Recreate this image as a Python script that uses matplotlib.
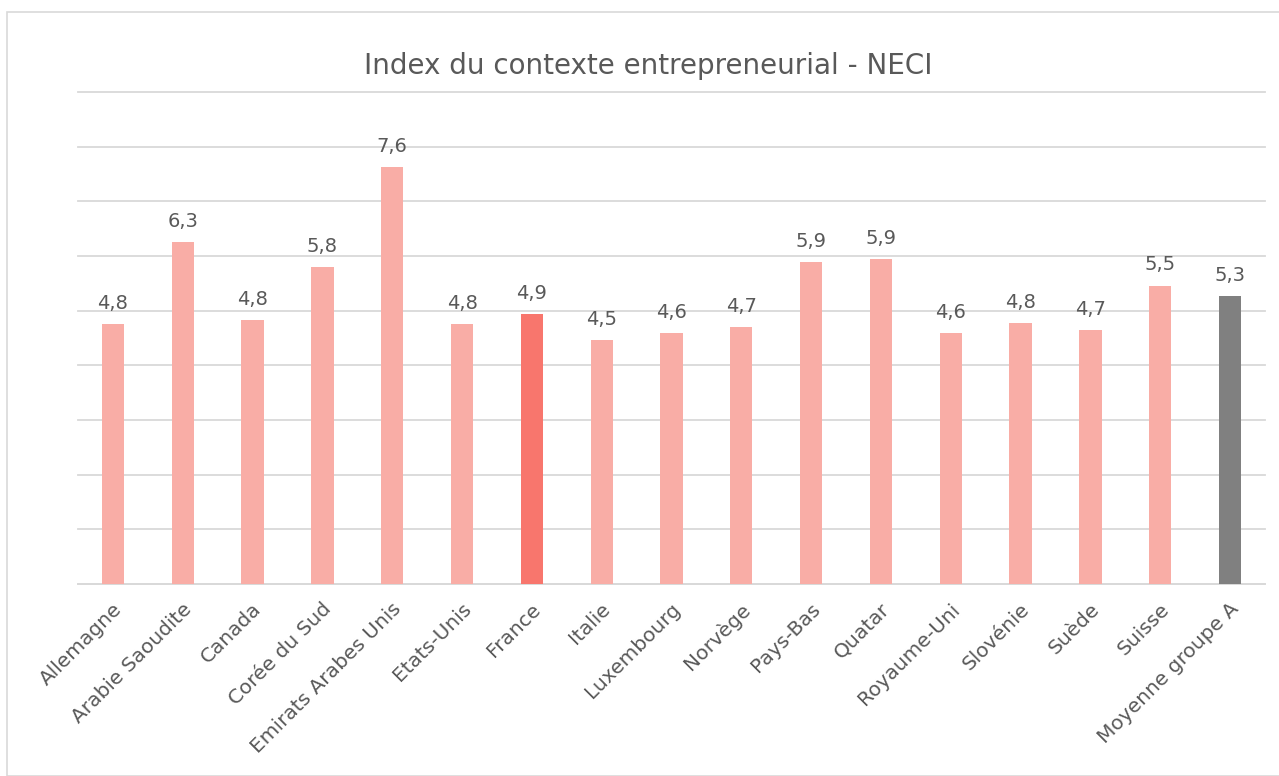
import matplotlib
matplotlib.use("Agg")
import matplotlib.pyplot as plt
from matplotlib.patches import Rectangle
from matplotlib.transforms import ScaledTranslation

categories = ["Allemagne", "Arabie Saoudite", "Canada", "Corée du Sud", "Emirats Arabes Unis",
              "Etats-Unis", "France", "Italie", "Luxembourg", "Norvège", "Pays-Bas", "Quatar",
              "Royaume-Uni", "Slovénie", "Suède", "Suisse", "Moyenne groupe A"]
values = [4.76, 6.26, 4.83, 5.80, 7.62, 4.76, 4.94, 4.46, 4.59, 4.70, 5.89, 5.94,
          4.59, 4.77, 4.65, 5.46, 5.27]
labels = ["4,8", "6,3", "4,8", "5,8", "7,6", "4,8", "4,9", "4,5", "4,6", "4,7", "5,9", "5,9",
          "4,6", "4,8", "4,7", "5,5", "5,3"]

plt.rcParams['font.family'] = ['DejaVu Sans']
text_color = "#595959"

fig = plt.figure(figsize=(12.79, 7.76), dpi=100)
fig.patches.append(Rectangle((7/1279, 0), 1.0, 1 - 12/776, transform=fig.transFigure,
                             fill=False, edgecolor="#D9D9D9", linewidth=1.2))
ax = fig.add_axes([78/1279, 192/776, 1187/1279, 492/776])

colors = []
for c in categories:
    if c == "France":
        colors.append("#F8766D")
    elif c == "Moyenne groupe A":
        colors.append("#808080")
    else:
        colors.append("#F9ADA6")

x = list(range(len(categories)))
ax.bar(x, values, width=0.32, color=colors, zorder=3)
for xi, v, lab in zip(x, values, labels):
    ax.annotate(lab, (xi, v), xytext=(0, 11), textcoords="offset points",
                ha="center", va="baseline", fontsize=14, color=text_color)

ax.set_ylim(0, 9)
ax.set_xlim(-0.5, len(categories) - 0.5)
ax.set_yticks(range(0, 10))
ax.yaxis.grid(True, color="#D9D9D9", linewidth=1.3, zorder=0)
for gl in ax.get_ygridlines():
    gl.set_clip_on(False)
ax.tick_params(axis="y", length=0, labelleft=False)
ax.tick_params(axis="x", length=0, pad=16)
for s in ["top", "right", "left"]:
    ax.spines[s].set_visible(False)
ax.spines["bottom"].set_color("#D9D9D9")
ax.spines["bottom"].set_linewidth(1.3)
ax.set_xticks(x)
ax.set_xticklabels(categories, rotation=45, ha="right", va="center", rotation_mode="anchor",
                   fontsize=14.5, color=text_color)
offset = ScaledTranslation(0.06, 0, fig.dpi_scale_trans)
for lbl in ax.get_xticklabels():
    lbl.set_transform(lbl.get_transform() + offset)

fig.text(648/1279, 1 - 74/776, "Index du contexte entrepreneurial - NECI", ha="center",
         va="baseline", fontsize=20, color=text_color)

fig.savefig("out.png", dpi=100)
